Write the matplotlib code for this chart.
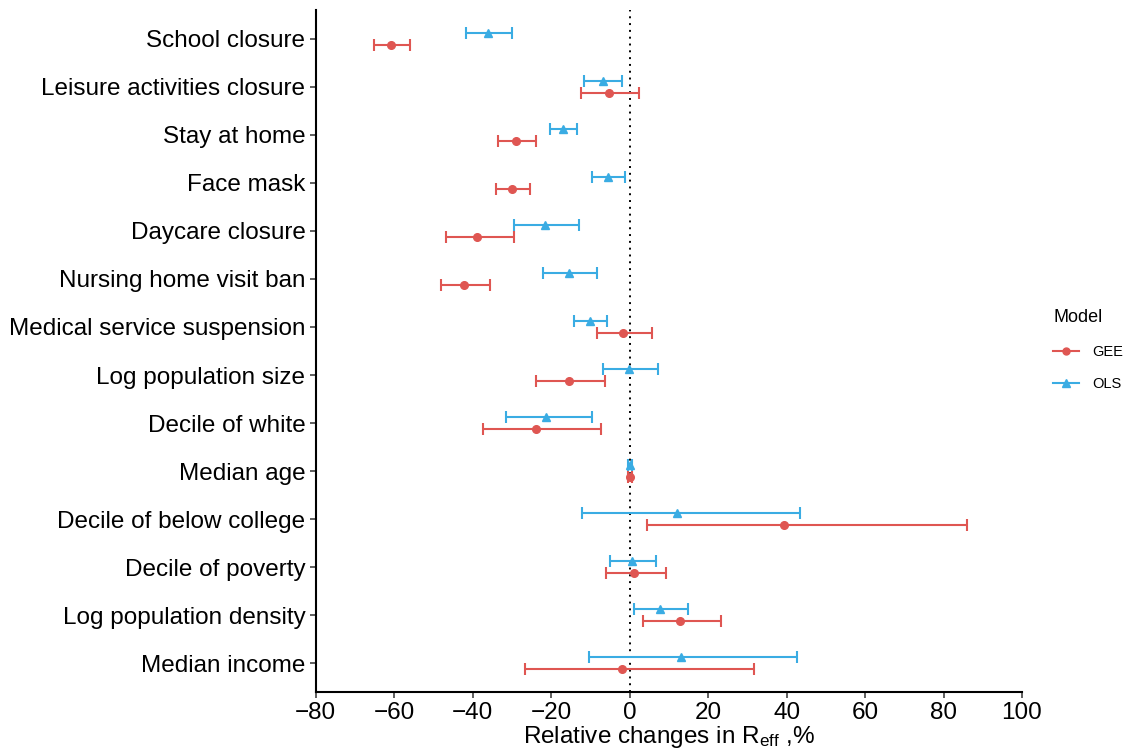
import numpy as np
import matplotlib
matplotlib.use("Agg")
from matplotlib import pyplot as plt
from matplotlib.lines import Line2D

plt.rcParams['font.family'] = ['Liberation Sans', 'DejaVu Sans']
plt.rcParams['mathtext.fontset'] = 'custom'
plt.rcParams['mathtext.rm'] = 'Liberation Sans'
plt.rcParams['mathtext.it'] = 'Liberation Sans:italic'

variables = ["School closure", "Leisure activities closure", "Stay at home",
             "Face mask", "Daycare closure", "Nursing home visit ban",
             "Medical service suspension", "Log population size",
             "Decile of white", "Median age", "Decile of below college",
             "Decile of poverty", "Log population density", "Median income"]

gee_est = [-60.9, -5.3, -29.0, -30.0, -38.9, -42.3, -1.6, -15.5, -23.9, 0.0, 39.3, 1.2, 12.8, -1.9]
gee_lo = [-65.1, -12.5, -33.5, -34.2, -46.9, -48.0, -8.3, -23.8, -37.4, -0.5, 4.3, -6.1, 3.5, -26.8]
gee_hi = [-56.0, 2.4, -23.9, -25.4, -29.6, -35.7, 5.7, -6.3, -7.3, 0.5, 86.1, 9.2, 23.2, 31.8]

ols_est = [-36.0, -6.9, -17.0, -5.5, -21.5, -15.5, -10.1, -0.1, -21.4, 0.0, 12.0, 0.6, 7.7, 13.1]
ols_lo = [-41.8, -11.6, -20.4, -9.6, -29.4, -22.1, -14.2, -6.8, -31.6, -0.5, -12.2, -4.9, 1.2, -10.3]
ols_hi = [-29.9, -2.0, -13.3, -1.2, -13.0, -8.4, -5.7, 7.1, -9.6, 0.5, 43.4, 6.7, 14.9, 42.6]

red = "#DF5652"
blue = "#3AACE3"

n = len(variables)
ypos = np.arange(n)[::-1]
dodge = 0.125

fig = plt.figure(figsize=(11.28, 7.56), dpi=100)
ax = fig.add_axes([0.280, 0.0847, 0.626, 0.902])

ax.axvline(0, color="black", linestyle=(0, (1, 2.5)), linewidth=1.4, zorder=1)

g = np.array(gee_est)
ax.errorbar(g, ypos - dodge,
            xerr=[g - np.array(gee_lo), np.array(gee_hi) - g],
            fmt="o", color=red, ecolor=red, markersize=5.5, elinewidth=1.5,
            capsize=4.5, capthick=1.5, zorder=3)
o = np.array(ols_est)
ax.errorbar(o, ypos + dodge,
            xerr=[o - np.array(ols_lo), np.array(ols_hi) - o],
            fmt="^", color=blue, ecolor=blue, markersize=6, elinewidth=1.5,
            capsize=4.5, capthick=1.5, zorder=3)

ax.set_xlim(-80, 100)
ax.set_xticks(np.arange(-80, 101, 20))
ax.set_ylim(-0.6, n - 1 + 0.6)
ax.set_yticks(ypos)
ax.set_yticklabels(variables)
ax.tick_params(axis="both", labelsize=17.5, colors="#333333", length=4, width=1.1)
ax.tick_params(axis="x", pad=3)
for lab in ax.get_xticklabels() + ax.get_yticklabels():
    lab.set_color("black")

for s in ["top", "right"]:
    ax.spines[s].set_visible(False)
for s in ["left", "bottom"]:
    ax.spines[s].set_linewidth(1.5)
    ax.spines[s].set_color("black")

ax.set_xlabel(r"Relative changes in R$_{\mathrm{eff}}$ ,%", fontsize=17.5, labelpad=0)

handles = [Line2D([], [], color=red, marker="o", markersize=5, linewidth=1.5),
           Line2D([], [], color=blue, marker="^", markersize=5.5, linewidth=1.5)]
leg = fig.legend(handles, ["GEE", "OLS"], title="Model", loc="upper left",
                 bbox_to_anchor=(0.922, 0.608), frameon=False, fontsize=10.5,
                 title_fontsize=13, handlelength=1.8, handletextpad=0.85,
                 labelspacing=1.25, alignment="left")

fig.savefig("out.png", dpi=100)
